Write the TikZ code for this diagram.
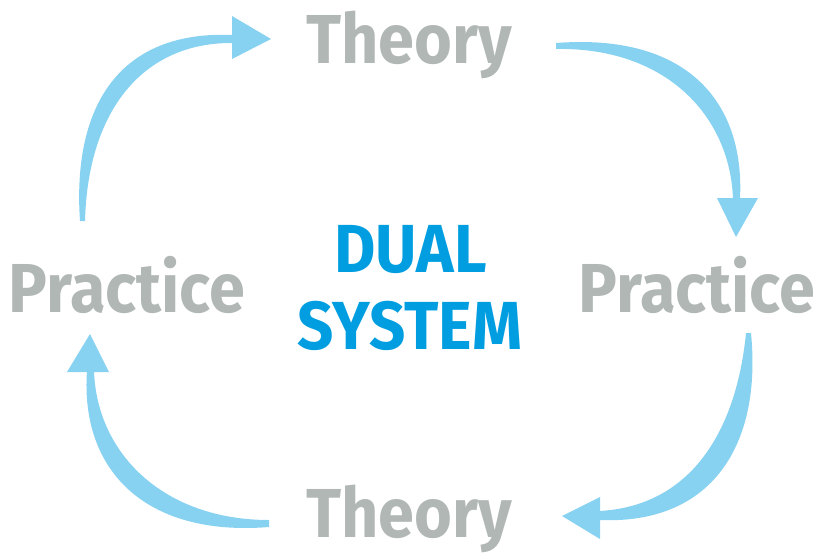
\documentclass[tikz,border=0pt]{standalone}
\usepackage{fontspec}
\setmainfont{Fira Sans}[BoldFont={Fira Sans Bold}]
\definecolor{txtgray}{HTML}{B0B7B4}
\definecolor{txtblue}{HTML}{009EE0}
\definecolor{arrblue}{HTML}{87D1F1}
\begin{document}
\begin{tikzpicture}[x=0.75pt,y=-0.75pt,
  lbl/.style={inner sep=0pt,anchor=base,xscale=0.935,text=txtgray,font=\fontsize{52}{52}\selectfont\bfseries},
  ctr/.style={inner sep=0pt,anchor=base,xscale=0.935,text=txtblue,font=\fontsize{51}{51}\selectfont\bfseries},
  band/.style={fill=arrblue,draw=none},
  head/.style={fill=arrblue,draw=none}]
\useasboundingbox (0,0) rectangle (817,554);
% labels
\node[lbl] (theoryT) at (409,63) {Theory};
\node[lbl] (practL) at (127,312) {Practice};
\node[lbl] (practR) at (697,312) {Practice};
\node[lbl] (theoryB) at (409,537) {Theory};
\node[ctr] (dual) at (410.5,272) {DUAL};
\node[ctr] (system) at (410,349) {SYSTEM};
% arrow 1: left practice -> top theory
\coordinate (a1s) at (82.5,221);
\coordinate (a1e) at (232,39);
\fill[band] (80,221) .. controls (72,105) and (120,30) .. (233,35)
  -- (233,43) .. controls (145,42) and (88,108) .. (85,221) -- cycle;
\fill[head] (232,16) -- (232,59) -- (271,39) -- cycle;
% arrow 2: top theory -> right practice
\coordinate (a2s) at (556,46);
\coordinate (a2e) at (736,198);
\fill[band] (556,43) .. controls (685,33) and (745,100) .. (740,199)
  -- (733,199) .. controls (730,115) and (665,47) .. (556,49) -- cycle;
\fill[head] (717,198) -- (758,198) -- (736,237) -- cycle;
% arrow 3: right practice -> bottom theory
\coordinate (a3s) at (748,333);
\coordinate (a3e) at (600,516);
\fill[band] (751,333) .. controls (762,445) and (712,525) .. (599,520)
  -- (599,511) .. controls (695,506) and (737,425) .. (746,333) -- cycle;
\fill[head] (600,497) -- (600,539) -- (562,516) -- cycle;
% arrow 4: bottom theory -> left practice
\coordinate (a4s) at (269,524);
\coordinate (a4e) at (90,372);
\fill[band] (269,527) .. controls (145,537) and (80,470) .. (87,371)
  -- (94,371) .. controls (97,455) and (165,520) .. (269,520) -- cycle;
\fill[head] (67,372) -- (109,372) -- (90,334) -- cycle;
\end{tikzpicture}
\end{document}
